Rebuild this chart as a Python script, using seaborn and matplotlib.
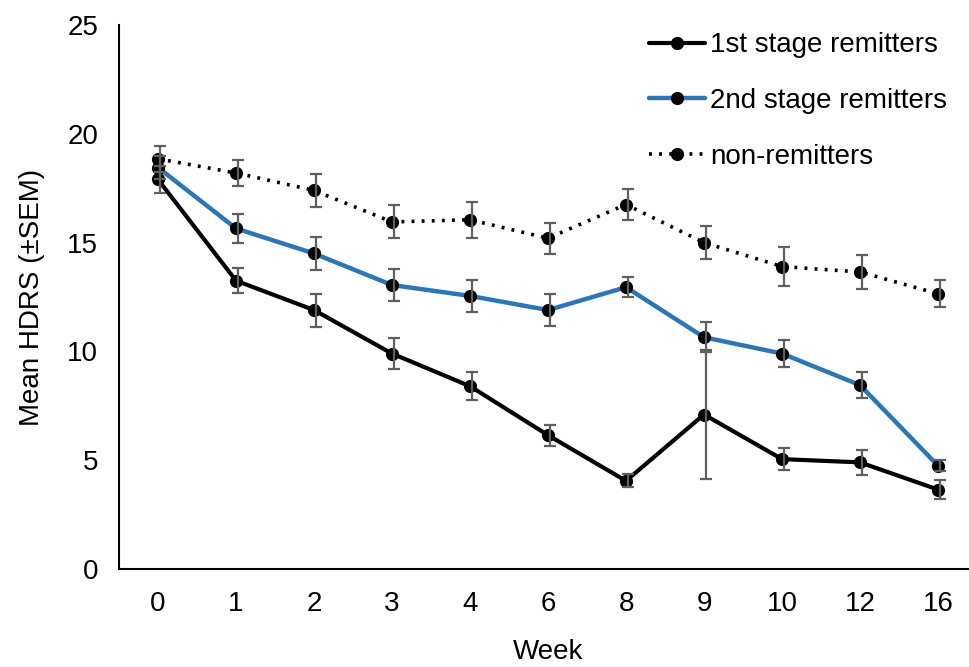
import numpy as np
import pandas as pd
import matplotlib
matplotlib.use("Agg")
import matplotlib.pyplot as plt
import seaborn as sns
from matplotlib.lines import Line2D

# week labels (evenly spaced categories)
weeks = ["0", "1", "2", "3", "4", "6", "8", "9", "10", "12", "16"]

# mean HDRS per group
first_mean = [17.9, 13.25, 11.9, 9.9, 8.4, 6.15, 4.05, 7.1, 5.05, 4.9, 3.65]
second_mean = [18.45, 15.65, 14.5, 13.05, 12.55, 11.9, 12.95, 10.65, 9.9, 8.45, 4.75]
non_mean = [18.85, 18.2, 17.4, 15.95, 16.05, 15.2, 16.75, 15.0, 13.9, 13.65, 12.65]

# SEM per group
first_sem = [0.6, 0.57, 0.76, 0.72, 0.65, 0.48, 0.3, 2.95, 0.52, 0.56, 0.42]
second_sem = [0.55, 0.65, 0.76, 0.75, 0.72, 0.73, 0.45, 0.7, 0.62, 0.61, 0.25]
non_sem = [0.6, 0.6, 0.76, 0.76, 0.82, 0.72, 0.71, 0.77, 0.9, 0.76, 0.63]

groups = ["1st stage remitters", "2nd stage remitters", "non-remitters"]
colors = {"1st stage remitters": "#000000",
          "2nd stage remitters": "#2E75B6",
          "non-remitters": "#000000"}

pos = np.arange(len(weeks))
df = pd.DataFrame({
    "pos": np.tile(pos, 3),
    "mean": first_mean + second_mean + non_mean,
    "sem": first_sem + second_sem + non_sem,
    "group": np.repeat(groups, len(weeks)),
})

sns.set_style("white")
plt.rcParams["font.family"] = ["Liberation Sans", "DejaVu Sans"]
plt.rcParams["text.color"] = "black"
plt.rcParams["axes.labelcolor"] = "black"
plt.rcParams["xtick.color"] = "black"
plt.rcParams["ytick.color"] = "black"

fig = plt.figure(figsize=(9.69, 6.67), dpi=100)
ax = fig.add_axes([119 / 969, 1 - 569 / 667, 858 / 969, 544 / 667])

styles = {"1st stage remitters": dict(lw=3.0, ls="-"),
          "2nd stage remitters": dict(lw=3.2, ls="-"),
          "non-remitters": dict(lw=2.6, ls=(0, (0.8, 2.0)))}

for g in groups:
    sub = df[df["group"] == g]
    sns.lineplot(data=sub, x="pos", y="mean", ax=ax, color=colors[g],
                 linewidth=styles[g]["lw"], linestyle=styles[g]["ls"],
                 marker="o", markersize=9.5, markeredgewidth=0,
                 markerfacecolor="black", zorder=3, legend=False)
    ax.errorbar(sub["pos"] + 0.03, sub["mean"], yerr=sub["sem"], fmt="none",
                ecolor="#5f5f5f", elinewidth=1.6, capsize=4.5, capthick=1.6,
                zorder=4)

ax.set_xlim(-0.5, len(weeks) - 0.5)
ax.set_ylim(0, 25)
ax.set_xticks(pos)
ax.set_xticklabels(weeks)
ax.set_yticks([0, 5, 10, 15, 20, 25])
ax.tick_params(axis="both", labelsize=20, length=0)
ax.tick_params(axis="x", pad=16)
ax.tick_params(axis="y", pad=15)
ax.set_xlabel("Week", fontsize=20, labelpad=16)
ax.set_ylabel("Mean HDRS (\u00b1SEM)", fontsize=20, labelpad=16)

sns.despine(ax=ax)
for s in ["left", "bottom"]:
    ax.spines[s].set_color("black")
    ax.spines[s].set_linewidth(1.5)

handles = [Line2D([0], [0], color=colors[g], lw=styles[g]["lw"], ls=styles[g]["ls"],
                  marker="o", markersize=9.5, markerfacecolor="black",
                  markeredgewidth=0) for g in groups]
ax.legend(handles, groups, loc="upper right", bbox_to_anchor=(0.985, 1.017),
          frameon=False, fontsize=20, handlelength=2.0, handletextpad=0.2,
          labelspacing=1.07, borderaxespad=0.2)

fig.savefig("out.png", dpi=100)
